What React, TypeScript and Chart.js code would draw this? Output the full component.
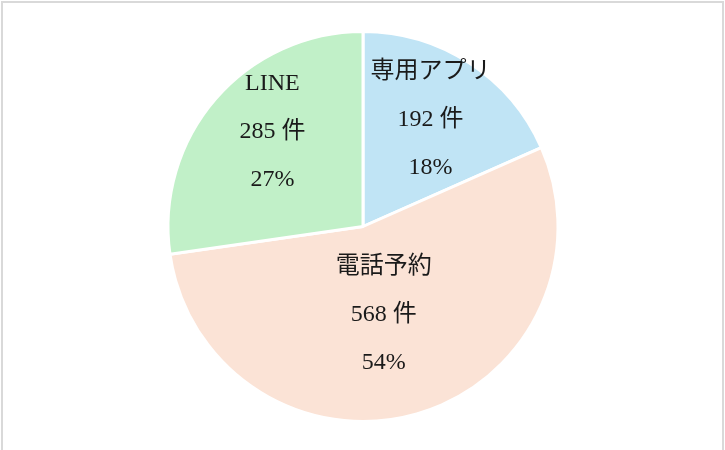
import React, { useEffect, useRef } from "react";
import { Chart, registerables } from "chart.js";

Chart.register(...registerables);

const categories = ["専用アプリ", "電話予約", "LINE"];
const counts = [192, 568, 285];
const unit = "件";
const sliceColors = ["#C0E4F5", "#FBE3D6", "#C1F0C8"];

// label placement tuning (fraction of radius, angle offset in degrees)
const labelRadiusFrac = [0.65, 0.464, 0.674];
const labelAngleOffset = [-0.9, 2.7, 5.5];

const labelPlugin = {
  id: "sliceLabels",
  afterDatasetsDraw(chart: any) {
    const ctx = chart.ctx;
    const meta = chart.getDatasetMeta(0);
    const data = chart.data.datasets[0].data as number[];
    const total = data.reduce((a, b) => a + b, 0);
    ctx.save();
    ctx.font = '24px "Liberation Serif", "Noto Sans CJK JP", serif';
    ctx.fillStyle = "#1a1a1a";
    ctx.textAlign = "center";
    ctx.textBaseline = "middle";
    meta.data.forEach((arc: any, i: number) => {
      const p = arc.getProps(["x", "y", "startAngle", "endAngle", "outerRadius"], true);
      const mid = (p.startAngle + p.endAngle) / 2 + (labelAngleOffset[i] * Math.PI) / 180;
      const r = p.outerRadius * labelRadiusFrac[i];
      const cx = p.x + Math.cos(mid) * r;
      const cy = p.y + Math.sin(mid) * r;
      const pct = Math.round((data[i] / total) * 100);
      const lines = [String(chart.data.labels[i]), `${data[i]} ${unit}`, `${pct}%`];
      lines.forEach((t, k) => {
        ctx.fillText(t, cx, cy + (k - 1) * 48);
      });
    });
    ctx.restore();
  },
};

export default function App() {
  const ref = useRef<HTMLCanvasElement>(null);
  useEffect(() => {
    document.body.style.margin = "0";
    const chart = new Chart(ref.current!, {
      type: "pie",
      data: {
        labels: categories,
        datasets: [
          {
            data: counts,
            backgroundColor: sliceColors,
            borderColor: "#ffffff",
            borderWidth: 3,
            radius: 195,
          } as any,
        ],
      },
      options: {
        animation: false,
        responsive: false,
        events: [],
        layout: { padding: { left: 1, right: 0, top: 3, bottom: 0 } },
        plugins: {
          legend: { display: false },
          tooltip: { enabled: false },
        },
      },
      plugins: [labelPlugin],
    });
    return () => chart.destroy();
  }, []);
  return (
    <div style={{ position: "fixed", left: 0, top: 0, width: 725, height: 450, background: "#fff", overflow: "hidden" }}>
      <canvas ref={ref} width={725} height={450} style={{ position: "absolute", left: 0, top: 0 }} />
      <div
        style={{
          position: "absolute",
          left: 1,
          top: 1,
          width: 719,
          height: 470,
          border: "2px solid #D9D9D9",
          pointerEvents: "none",
        }}
      />
    </div>
  );
}
